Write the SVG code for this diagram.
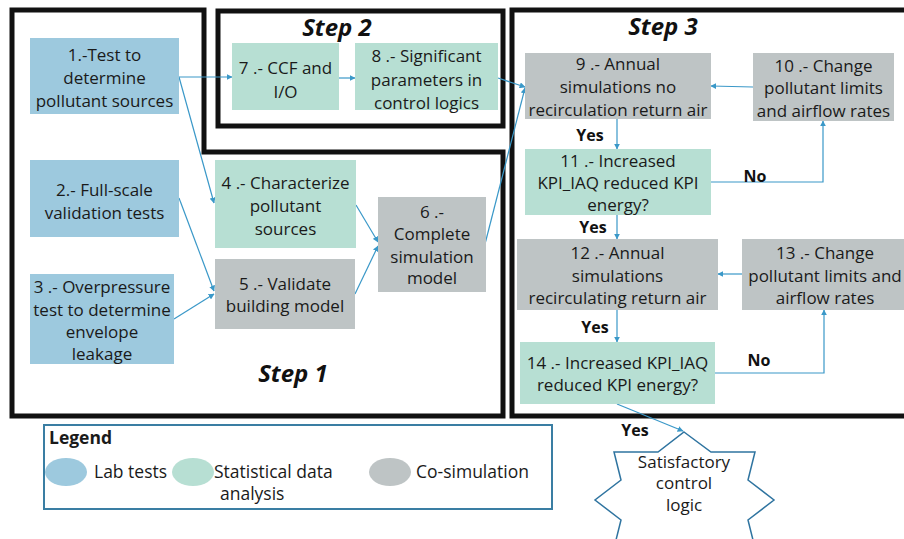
<svg xmlns="http://www.w3.org/2000/svg" width="904" height="539" viewBox="0 0 904 539">
  <defs>
    <marker id="arr" viewBox="0 0 10 10" refX="9" refY="5" markerWidth="6" markerHeight="6" markerUnits="userSpaceOnUse" orient="auto">
      <path d="M0,0 L10,5 L0,10 Z" fill="#3a98c8"/>
    </marker>
    <style>
      .frame { fill: none; stroke: #111; stroke-width: 5; }
      .blue { fill: #9dc9de; }
      .green { fill: #b7dfd3; }
      .gray { fill: #bec4c5; }
      .t { font-family: "Open Sans", "Noto Sans", sans-serif; font-size: 17px; fill: #1a1a1a; text-anchor: middle; }
      .lg { font-family: "Open Sans", "Noto Sans", sans-serif; font-size: 17.5px; fill: #1a1a1a; }
      .lbl { font-family: "Open Sans", "Noto Sans", sans-serif; font-size: 16px; font-weight: bold; fill: #111; text-anchor: middle; }
      .step { font-family: "Open Sans", "Noto Sans", sans-serif; font-size: 24px; font-weight: bold; font-style: italic; fill: #111; text-anchor: middle; }
      .link { fill: none; stroke: #3a98c8; stroke-width: 1.2; marker-end: url(#arr); }
    </style>
  </defs>
  <rect width="904" height="539" fill="#fff"/>

  <!-- step frames -->
  <g id="frames">
    <path class="frame" d="M12,10 H204 V152 H503 V416 H12 Z"/>
    <rect class="frame" x="218" y="11" width="285" height="115"/>
    <rect class="frame" x="512" y="10" width="400" height="406"/>
    <text class="step" x="337" y="36">Step 2</text>
    <text class="step" x="663" y="35">Step 3</text>
    <text class="step" x="293" y="382">Step 1</text>
  </g>

  <!-- connectors -->
  <g id="connectors">
    <line class="link" x1="179" y1="77" x2="232" y2="77"/>
    <line class="link" x1="339" y1="78" x2="355" y2="78"/>
    <line class="link" x1="179" y1="77" x2="214" y2="203"/>
    <line class="link" x1="179" y1="198" x2="214" y2="291"/>
    <line class="link" x1="174" y1="319" x2="214" y2="294"/>
    <line class="link" x1="356" y1="205" x2="378" y2="242"/>
    <line class="link" x1="355" y1="294" x2="378" y2="246"/>
    <line class="link" x1="498" y1="78" x2="525" y2="87"/>
    <line class="link" x1="485" y1="244" x2="525" y2="88"/>
    <line class="link" x1="753" y1="87" x2="711" y2="86"/>
    <line class="link" x1="617" y1="119" x2="617" y2="149"/>
    <polyline class="link" points="711,182 823,182 823,121"/>
    <line class="link" x1="617" y1="215" x2="617" y2="239"/>
    <line class="link" x1="742" y1="274" x2="718" y2="274"/>
    <line class="link" x1="617" y1="310" x2="617" y2="342"/>
    <polyline class="link" points="715,373 824,373 824,310"/>
    <line class="link" x1="617" y1="404" x2="683" y2="431"/>
    <text class="lbl" x="590" y="141">Yes</text>
    <text class="lbl" x="755" y="182">No</text>
    <text class="lbl" x="593" y="233">Yes</text>
    <text class="lbl" x="595" y="333">Yes</text>
    <text class="lbl" x="759" y="366">No</text>
    <text class="lbl" x="635" y="436">Yes</text>
  </g>

  <!-- step 1 nodes -->
  <g id="n1">
    <rect class="blue" x="30" y="38" width="149" height="76"/>
    <text class="t" x="104.5" y="61">1.-Test to</text>
    <text class="t" x="104.5" y="84">determine</text>
    <text class="t" x="104.5" y="107">pollutant sources</text>
  </g>
  <g id="n2">
    <rect class="blue" x="30" y="160" width="149" height="77"/>
    <text class="t" x="104.5" y="196">2.- Full-scale</text>
    <text class="t" x="104.5" y="219">validation tests</text>
  </g>
  <g id="n3">
    <rect class="blue" x="30" y="274" width="144" height="90"/>
    <text class="t" x="102" y="293">3 .- Overpressure</text>
    <text class="t" x="102" y="316">test to determine</text>
    <text class="t" x="102" y="338">envelope</text>
    <text class="t" x="102" y="360">leakage</text>
  </g>
  <g id="n4">
    <rect class="green" x="215" y="160" width="141" height="88"/>
    <text class="t" x="285.5" y="189">4 .- Characterize</text>
    <text class="t" x="285.5" y="212">pollutant</text>
    <text class="t" x="285.5" y="235">sources</text>
  </g>
  <g id="n5">
    <rect class="gray" x="215" y="259" width="140" height="70"/>
    <text class="t" x="285" y="290">5 .- Validate</text>
    <text class="t" x="285" y="312">building model</text>
  </g>
  <g id="n6">
    <rect class="gray" x="378" y="197" width="108" height="95"/>
    <text class="t" x="432" y="218">6 .-</text>
    <text class="t" x="432" y="240">Complete</text>
    <text class="t" x="432" y="263">simulation</text>
    <text class="t" x="432" y="284">model</text>
  </g>

  <!-- step 2 nodes -->
  <g id="n7">
    <rect class="green" x="232" y="43" width="107" height="67"/>
    <text class="t" x="285.5" y="74">7 .- CCF and</text>
    <text class="t" x="285.5" y="98">I/O</text>
  </g>
  <g id="n8">
    <rect class="green" x="355" y="43" width="143" height="67"/>
    <text class="t" x="426.5" y="62">8 .- Significant</text>
    <text class="t" x="426.5" y="86">parameters in</text>
    <text class="t" x="426.5" y="109">control logics</text>
  </g>

  <!-- step 3 nodes -->
  <g id="n9">
    <rect class="gray" x="525" y="53" width="186" height="66"/>
    <text class="t" x="618" y="70">9 .- Annual</text>
    <text class="t" x="618" y="93">simulations no</text>
    <text class="t" x="618" y="116">recirculation return air</text>
  </g>
  <g id="n10">
    <rect class="gray" x="753" y="53" width="141" height="68"/>
    <text class="t" x="823.5" y="72">10 .- Change</text>
    <text class="t" x="823.5" y="94">pollutant limits</text>
    <text class="t" x="823.5" y="117">and airflow rates</text>
  </g>
  <g id="n11">
    <rect class="green" x="525" y="149" width="186" height="66"/>
    <text class="t" x="618" y="167">11 .- Increased</text>
    <text class="t" x="618" y="189">KPI_IAQ reduced KPI</text>
    <text class="t" x="618" y="211">energy?</text>
  </g>
  <g id="n12">
    <rect class="gray" x="517" y="239" width="201" height="71"/>
    <text class="t" x="617.5" y="259">12 .- Annual</text>
    <text class="t" x="617.5" y="282">simulations</text>
    <text class="t" x="617.5" y="304">recirculating return air</text>
  </g>
  <g id="n13">
    <rect class="gray" x="742" y="239" width="166" height="71"/>
    <text class="t" x="825" y="259">13 .- Change</text>
    <text class="t" x="825" y="282">pollutant limits and</text>
    <text class="t" x="825" y="304">airflow rates</text>
  </g>
  <g id="n14">
    <rect class="green" x="520" y="342" width="195" height="62"/>
    <text class="t" x="617.5" y="369">14 .- Increased KPI_IAQ</text>
    <text class="t" x="617.5" y="391">reduced KPI energy?</text>
  </g>

  <!-- end state -->
  <g id="n15">
    <polygon points="684,432 711,452 755,452 748,480 774,500 748,520 755,548 711,548 684,568 658,548 614,548 621,520 595,500 621,480 614,452 658,452" fill="#fff" stroke="#2f74a0" stroke-width="1.5"/>
    <text class="t" x="684" y="468">Satisfactory</text>
    <text class="t" x="684" y="489">control</text>
    <text class="t" x="684" y="511">logic</text>
  </g>

  <!-- legend -->
  <g id="legend">
    <rect x="44" y="425" width="508" height="84" fill="#fff" stroke="#3a7ea3" stroke-width="2"/>
    <text class="lg" x="49" y="444" font-weight="bold" font-size="16" fill="#111">Legend</text>
    <ellipse class="blue" cx="66" cy="472" rx="21" ry="14"/>
    <text class="lg" x="94" y="478">Lab tests</text>
    <ellipse class="green" cx="193" cy="472" rx="21" ry="14"/>
    <text class="lg" x="214" y="478">Statistical data</text>
    <text class="lg" x="220" y="500">analysis</text>
    <ellipse class="gray" cx="390" cy="472" rx="21" ry="14"/>
    <text class="lg" x="416" y="478">Co-simulation</text>
  </g>
</svg>
